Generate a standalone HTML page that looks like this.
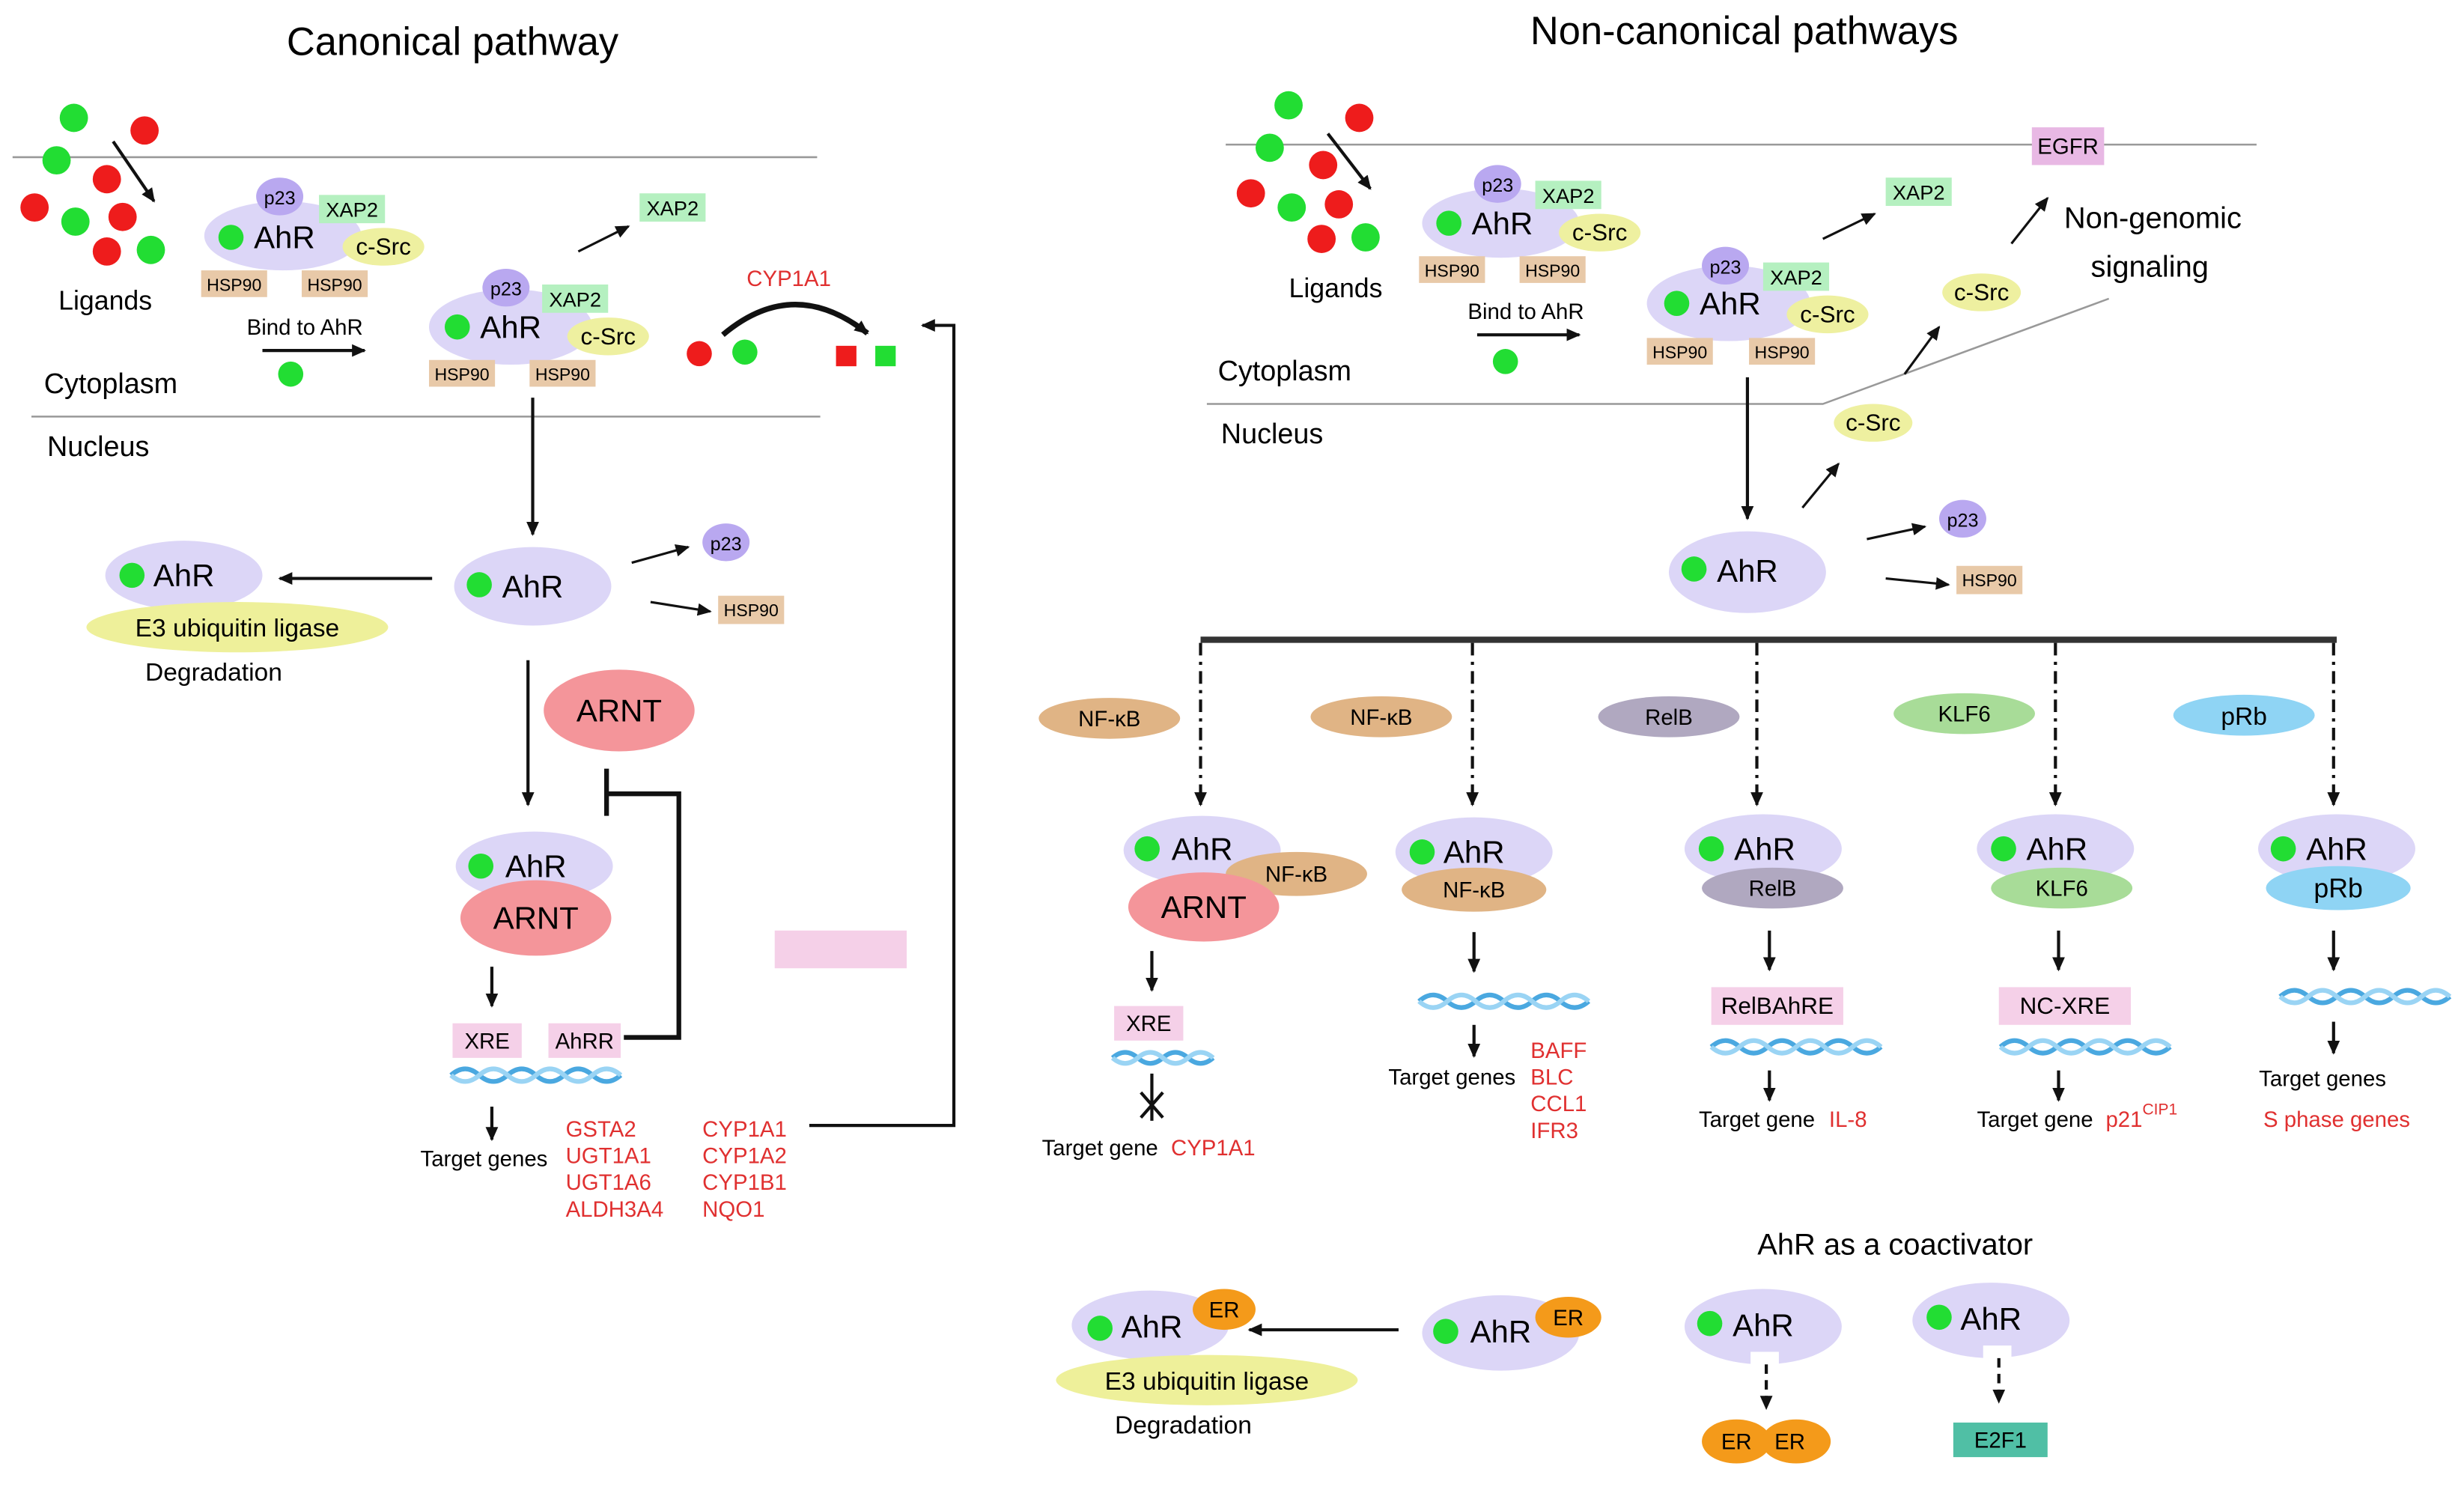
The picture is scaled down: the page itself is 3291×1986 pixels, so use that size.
<!DOCTYPE html>
<html><head><meta charset="utf-8"><style>
html,body{margin:0;padding:0;background:#fff;}
svg{display:block;}
text{font-family:"Liberation Sans",Arial,sans-serif;}
</style></head><body>
<svg width="3291" height="1986" viewBox="0 0 1568 946" preserveAspectRatio="none" xmlns="http://www.w3.org/2000/svg">
<defs>
<marker id="a" markerWidth="10" markerHeight="10" refX="8" refY="5" orient="auto" markerUnits="userSpaceOnUse"><path d="M0,1 L9,5 L0,9 z" fill="#111"/></marker>
</defs>
<rect width="1568" height="946" fill="#fff"/>

<!-- ============ LEFT ============ -->
<text x="288" y="35" font-size="25" text-anchor="middle">Canonical pathway</text>
<line x1="8" y1="100" x2="520" y2="100" stroke="#999" stroke-width="1.2"/>
<line x1="20" y1="265" x2="522" y2="265" stroke="#999" stroke-width="1.2"/>
<g fill="#22dd33"><circle cx="47" cy="75" r="9"/><circle cx="36" cy="102" r="9"/><circle cx="48" cy="141" r="9"/><circle cx="96" cy="159" r="9"/></g>
<g fill="#ee1c1c"><circle cx="92" cy="83" r="9"/><circle cx="68" cy="114" r="9"/><circle cx="22" cy="132" r="9"/><circle cx="78" cy="138" r="9"/><circle cx="68" cy="160" r="9"/></g>
<line x1="72" y1="90" x2="98" y2="128" stroke="#111" stroke-width="2" marker-end="url(#a)"/>
<text x="67" y="197" font-size="17" text-anchor="middle">Ligands</text>

<!-- complex 1 -->
<ellipse cx="180" cy="150" rx="50" ry="22" fill="#dcd6f7"/>
<ellipse cx="178" cy="125" rx="15" ry="12" fill="#b9a8f0"/><text x="178" y="130" font-size="12" text-anchor="middle">p23</text>
<rect x="203" y="124" width="42" height="18" fill="#b5f0c0"/><text x="224" y="138" font-size="13" text-anchor="middle">XAP2</text>
<ellipse cx="244" cy="157" rx="26" ry="12" fill="#eef0a0"/><text x="244" y="162" font-size="15" text-anchor="middle">c-Src</text>
<circle cx="147" cy="151" r="8" fill="#22dd33"/><text x="181" y="158" font-size="20" text-anchor="middle">AhR</text>
<rect x="128" y="172" width="42" height="17" fill="#e8c9a8"/><text x="149" y="185" font-size="11" text-anchor="middle">HSP90</text>
<rect x="192" y="172" width="42" height="17" fill="#e8c9a8"/><text x="213" y="185" font-size="11" text-anchor="middle">HSP90</text>
<text x="194" y="213" font-size="14" text-anchor="middle">Bind to AhR</text>
<line x1="167" y1="223" x2="232" y2="223" stroke="#111" stroke-width="2" marker-end="url(#a)"/>
<circle cx="185" cy="238" r="8" fill="#22dd33"/>

<!-- complex 2 -->
<ellipse cx="325" cy="208" rx="52" ry="24" fill="#dcd6f7"/>
<ellipse cx="322" cy="183" rx="15" ry="12" fill="#b9a8f0"/><text x="322" y="188" font-size="12" text-anchor="middle">p23</text>
<rect x="345" y="181" width="42" height="18" fill="#b5f0c0"/><text x="366" y="195" font-size="13" text-anchor="middle">XAP2</text>
<ellipse cx="387" cy="214" rx="26" ry="12" fill="#eef0a0"/><text x="387" y="219" font-size="15" text-anchor="middle">c-Src</text>
<circle cx="291" cy="208" r="8" fill="#22dd33"/><text x="325" y="215" font-size="20" text-anchor="middle">AhR</text>
<rect x="273" y="229" width="42" height="17" fill="#e8c9a8"/><text x="294" y="242" font-size="11" text-anchor="middle">HSP90</text>
<rect x="337" y="229" width="42" height="17" fill="#e8c9a8"/><text x="358" y="242" font-size="11" text-anchor="middle">HSP90</text>
<line x1="368" y1="160" x2="400" y2="144" stroke="#111" stroke-width="1.5" marker-end="url(#a)"/>
<rect x="407" y="123" width="42" height="18" fill="#b5f0c0"/><text x="428" y="137" font-size="13" text-anchor="middle">XAP2</text>

<text x="502" y="182" font-size="14" fill="#e03030" text-anchor="middle">CYP1A1</text>
<path d="M460 213 Q505 175 552 212" fill="none" stroke="#111" stroke-width="3.5" marker-end="url(#a)"/>
<circle cx="445" cy="225" r="8" fill="#ee1c1c"/><circle cx="474" cy="224" r="8" fill="#22dd33"/>
<rect x="532" y="220" width="13" height="13" fill="#ee1c1c"/><rect x="557" y="220" width="13" height="13" fill="#22dd33"/>
<polyline points="515,716 607,716 607,207 587,207" fill="none" stroke="#111" stroke-width="2" marker-end="url(#a)"/>

<text x="28" y="250" font-size="18">Cytoplasm</text>
<text x="30" y="290" font-size="18">Nucleus</text>
<line x1="339" y1="253" x2="339" y2="340" stroke="#111" stroke-width="2" marker-end="url(#a)"/>

<ellipse cx="339" cy="373" rx="50" ry="25" fill="#dcd6f7"/><circle cx="305" cy="372" r="8" fill="#22dd33"/><text x="339" y="380" font-size="20" text-anchor="middle">AhR</text>
<line x1="402" y1="358" x2="438" y2="348" stroke="#111" stroke-width="1.5" marker-end="url(#a)"/>
<ellipse cx="462" cy="345" rx="15" ry="12" fill="#b9a8f0"/><text x="462" y="350" font-size="12" text-anchor="middle">p23</text>
<line x1="414" y1="383" x2="452" y2="389" stroke="#111" stroke-width="1.5" marker-end="url(#a)"/>
<rect x="457" y="379" width="42" height="18" fill="#e8c9a8"/><text x="478" y="392" font-size="11" text-anchor="middle">HSP90</text>
<line x1="275" y1="368" x2="178" y2="368" stroke="#111" stroke-width="2" marker-end="url(#a)"/>
<ellipse cx="117" cy="366" rx="50" ry="22" fill="#dcd6f7"/><circle cx="84" cy="366" r="8" fill="#22dd33"/><text x="117" y="373" font-size="20" text-anchor="middle">AhR</text>
<ellipse cx="151" cy="399" rx="96" ry="16" fill="#eef09a"/><text x="151" y="405" font-size="16" text-anchor="middle">E3 ubiquitin ligase</text>
<text x="136" y="433" font-size="16" text-anchor="middle">Degradation</text>

<line x1="336" y1="420" x2="336" y2="512" stroke="#111" stroke-width="2" marker-end="url(#a)"/>
<ellipse cx="394" cy="452" rx="48" ry="26" fill="#f4959a"/><text x="394" y="459" font-size="20" text-anchor="middle">ARNT</text>
<polyline points="397,660 432,660 432,505 386,505" fill="none" stroke="#111" stroke-width="3"/>
<line x1="386" y1="489" x2="386" y2="519" stroke="#111" stroke-width="3"/>
<ellipse cx="340" cy="551" rx="50" ry="22" fill="#dcd6f7"/><circle cx="306" cy="551" r="8" fill="#22dd33"/><text x="341" y="558" font-size="20" text-anchor="middle">AhR</text>
<ellipse cx="341" cy="584" rx="48" ry="24" fill="#f4959a"/><text x="341" y="591" font-size="20" text-anchor="middle">ARNT</text>
<rect x="493" y="592" width="84" height="24" fill="#f5d0e8"/>
<line x1="313" y1="615" x2="313" y2="640" stroke="#111" stroke-width="2" marker-end="url(#a)"/>
<rect x="288" y="651" width="44" height="22" fill="#f5d0e8"/><text x="310" y="667" font-size="14" text-anchor="middle">XRE</text>
<rect x="349" y="651" width="46" height="22" fill="#f5d0e8"/><text x="372" y="667" font-size="14" text-anchor="middle">AhRR</text>
<g fill="none" stroke-width="3"><path d="M287 684 q9 -8 18 0 t18 0 t18 0 t18 0 t18 0 t18 0" stroke="#4aa8e0"/><path d="M287 684 q9 8 18 0 t18 0 t18 0 t18 0 t18 0 t18 0" stroke="#9ad4f4"/></g>
<line x1="313" y1="704" x2="313" y2="725" stroke="#111" stroke-width="2" marker-end="url(#a)"/>
<text x="308" y="742" font-size="14" text-anchor="middle">Target genes</text>
<g font-size="14" fill="#e03030"><text x="360" y="723">GSTA2</text><text x="360" y="740">UGT1A1</text><text x="360" y="757">UGT1A6</text><text x="360" y="774">ALDH3A4</text>
<text x="447" y="723">CYP1A1</text><text x="447" y="740">CYP1A2</text><text x="447" y="757">CYP1B1</text><text x="447" y="774">NQO1</text></g>

<!-- ============ RIGHT ============ -->
<text x="1110" y="28" font-size="25" text-anchor="middle">Non-canonical pathways</text>
<line x1="780" y1="92" x2="1436" y2="92" stroke="#999" stroke-width="1.2"/>
<polyline points="768,257 1160,257 1342,190" fill="none" stroke="#999" stroke-width="1.2"/>
<g fill="#22dd33"><circle cx="820" cy="67" r="9"/><circle cx="808" cy="94" r="9"/><circle cx="822" cy="132" r="9"/><circle cx="869" cy="151" r="9"/></g>
<g fill="#ee1c1c"><circle cx="865" cy="75" r="9"/><circle cx="842" cy="105" r="9"/><circle cx="796" cy="123" r="9"/><circle cx="852" cy="130" r="9"/><circle cx="841" cy="152" r="9"/></g>
<line x1="845" y1="85" x2="872" y2="120" stroke="#111" stroke-width="2" marker-end="url(#a)"/>
<text x="850" y="189" font-size="17" text-anchor="middle">Ligands</text>
<rect x="1293" y="81" width="46" height="24" fill="#e8b8e4"/><text x="1316" y="98" font-size="14" text-anchor="middle">EGFR</text>

<ellipse cx="955" cy="142" rx="50" ry="22" fill="#dcd6f7"/>
<ellipse cx="953" cy="117" rx="15" ry="12" fill="#b9a8f0"/><text x="953" y="122" font-size="12" text-anchor="middle">p23</text>
<rect x="977" y="115" width="42" height="18" fill="#b5f0c0"/><text x="998" y="129" font-size="13" text-anchor="middle">XAP2</text>
<ellipse cx="1018" cy="148" rx="26" ry="12" fill="#eef0a0"/><text x="1018" y="153" font-size="15" text-anchor="middle">c-Src</text>
<circle cx="922" cy="142" r="8" fill="#22dd33"/><text x="956" y="149" font-size="20" text-anchor="middle">AhR</text>
<rect x="903" y="163" width="42" height="17" fill="#e8c9a8"/><text x="924" y="176" font-size="11" text-anchor="middle">HSP90</text>
<rect x="967" y="163" width="42" height="17" fill="#e8c9a8"/><text x="988" y="176" font-size="11" text-anchor="middle">HSP90</text>
<text x="971" y="203" font-size="14" text-anchor="middle">Bind to AhR</text>
<line x1="940" y1="213" x2="1005" y2="213" stroke="#111" stroke-width="2" marker-end="url(#a)"/>
<circle cx="958" cy="230" r="8" fill="#22dd33"/>
<line x1="1160" y1="152" x2="1193" y2="136" stroke="#111" stroke-width="1.5" marker-end="url(#a)"/>
<rect x="1200" y="113" width="42" height="18" fill="#b5f0c0"/><text x="1221" y="127" font-size="13" text-anchor="middle">XAP2</text>

<ellipse cx="1100" cy="193" rx="52" ry="24" fill="#dcd6f7"/>
<ellipse cx="1098" cy="169" rx="15" ry="12" fill="#b9a8f0"/><text x="1098" y="174" font-size="12" text-anchor="middle">p23</text>
<rect x="1122" y="167" width="42" height="18" fill="#b5f0c0"/><text x="1143" y="181" font-size="13" text-anchor="middle">XAP2</text>
<ellipse cx="1163" cy="200" rx="26" ry="12" fill="#eef0a0"/><text x="1163" y="205" font-size="15" text-anchor="middle">c-Src</text>
<circle cx="1067" cy="193" r="8" fill="#22dd33"/><text x="1101" y="200" font-size="20" text-anchor="middle">AhR</text>
<rect x="1048" y="215" width="42" height="17" fill="#e8c9a8"/><text x="1069" y="228" font-size="11" text-anchor="middle">HSP90</text>
<rect x="1113" y="215" width="42" height="17" fill="#e8c9a8"/><text x="1134" y="228" font-size="11" text-anchor="middle">HSP90</text>

<text x="1370" y="145" font-size="19" text-anchor="middle">Non-genomic</text>
<text x="1368" y="176" font-size="19" text-anchor="middle">signaling</text>
<line x1="1280" y1="155" x2="1303" y2="126" stroke="#111" stroke-width="1.5" marker-end="url(#a)"/>
<ellipse cx="1261" cy="186" rx="25" ry="12" fill="#eef0a0"/><text x="1261" y="191" font-size="15" text-anchor="middle">c-Src</text>
<line x1="1212" y1="238" x2="1234" y2="208" stroke="#111" stroke-width="1.5" marker-end="url(#a)"/>
<ellipse cx="1192" cy="269" rx="25" ry="12" fill="#eef0a0"/><text x="1192" y="274" font-size="15" text-anchor="middle">c-Src</text>
<line x1="1147" y1="323" x2="1170" y2="295" stroke="#111" stroke-width="1.5" marker-end="url(#a)"/>
<text x="775" y="242" font-size="18">Cytoplasm</text>
<text x="777" y="282" font-size="18">Nucleus</text>
<line x1="1112" y1="240" x2="1112" y2="330" stroke="#111" stroke-width="2" marker-end="url(#a)"/>

<ellipse cx="1112" cy="364" rx="50" ry="26" fill="#dcd6f7"/><circle cx="1078" cy="362" r="8" fill="#22dd33"/><text x="1112" y="370" font-size="20" text-anchor="middle">AhR</text>
<line x1="1188" y1="343" x2="1225" y2="335" stroke="#111" stroke-width="1.5" marker-end="url(#a)"/>
<ellipse cx="1249" cy="330" rx="15" ry="12" fill="#b9a8f0"/><text x="1249" y="335" font-size="12" text-anchor="middle">p23</text>
<line x1="1200" y1="368" x2="1240" y2="372" stroke="#111" stroke-width="1.5" marker-end="url(#a)"/>
<rect x="1245" y="360" width="42" height="18" fill="#e8c9a8"/><text x="1266" y="373" font-size="11" text-anchor="middle">HSP90</text>

<line x1="764" y1="407" x2="1487" y2="407" stroke="#333" stroke-width="4"/>
<g stroke="#111" stroke-width="2" stroke-dasharray="8,4,2,4" marker-end="url(#a)">
<line x1="764" y1="409" x2="764" y2="512"/><line x1="937" y1="409" x2="937" y2="512"/><line x1="1118" y1="409" x2="1118" y2="512"/><line x1="1308" y1="409" x2="1308" y2="512"/><line x1="1485" y1="409" x2="1485" y2="512"/></g>

<ellipse cx="706" cy="457" rx="45" ry="13" fill="#e0b485"/><text x="706" y="462" font-size="14" text-anchor="middle">NF-κB</text>
<ellipse cx="879" cy="456" rx="45" ry="13" fill="#e0b485"/><text x="879" y="461" font-size="14" text-anchor="middle">NF-κB</text>
<ellipse cx="1062" cy="456" rx="45" ry="13" fill="#b0a8c0"/><text x="1062" y="461" font-size="14" text-anchor="middle">RelB</text>
<ellipse cx="1250" cy="454" rx="45" ry="13" fill="#a8dc98"/><text x="1250" y="459" font-size="14" text-anchor="middle">KLF6</text>
<ellipse cx="1428" cy="455" rx="45" ry="13" fill="#8fd4f4"/><text x="1428" y="461" font-size="16" text-anchor="middle">pRb</text>

<!-- col1 -->
<ellipse cx="765" cy="541" rx="50" ry="22" fill="#dcd6f7"/><circle cx="730" cy="540" r="8" fill="#22dd33"/><text x="765" y="547" font-size="20" text-anchor="middle">AhR</text>
<ellipse cx="825" cy="556" rx="45" ry="14" fill="#e0b485"/><text x="825" y="561" font-size="14" text-anchor="middle">NF-κB</text>
<ellipse cx="766" cy="577" rx="48" ry="22" fill="#f4959a"/><text x="766" y="584" font-size="20" text-anchor="middle">ARNT</text>
<line x1="733" y1="605" x2="733" y2="630" stroke="#111" stroke-width="2" marker-end="url(#a)"/>
<rect x="709" y="640" width="44" height="22" fill="#f5d0e8"/><text x="731" y="656" font-size="14" text-anchor="middle">XRE</text>
<g fill="none" stroke-width="3"><path d="M708 673 q8 -7 16 0 t16 0 t16 0 t16 0" stroke="#4aa8e0"/><path d="M708 673 q8 7 16 0 t16 0 t16 0 t16 0" stroke="#9ad4f4"/></g>
<line x1="733" y1="683" x2="733" y2="713" stroke="#111" stroke-width="2"/>
<path d="M726 695 L740 711 M740 695 L726 711" stroke="#111" stroke-width="2"/>
<text x="700" y="735" font-size="14" text-anchor="middle">Target gene</text>
<text x="772" y="735" font-size="14" fill="#e03030" text-anchor="middle">CYP1A1</text>

<!-- col2 -->
<ellipse cx="938" cy="542" rx="50" ry="22" fill="#dcd6f7"/><circle cx="905" cy="542" r="8" fill="#22dd33"/><text x="938" y="549" font-size="20" text-anchor="middle">AhR</text>
<ellipse cx="938" cy="566" rx="46" ry="14" fill="#e0b485"/><text x="938" y="571" font-size="14" text-anchor="middle">NF-κB</text>
<line x1="938" y1="593" x2="938" y2="618" stroke="#111" stroke-width="2" marker-end="url(#a)"/>
<g fill="none" stroke-width="3"><path d="M903 637 q9 -8 18 0 t18 0 t18 0 t18 0 t18 0 t18 0" stroke="#4aa8e0"/><path d="M903 637 q9 8 18 0 t18 0 t18 0 t18 0 t18 0 t18 0" stroke="#9ad4f4"/></g>
<line x1="938" y1="652" x2="938" y2="672" stroke="#111" stroke-width="2" marker-end="url(#a)"/>
<text x="924" y="690" font-size="14" text-anchor="middle">Target genes</text>
<g font-size="14" fill="#e03030"><text x="974" y="673">BAFF</text><text x="974" y="690">BLC</text><text x="974" y="707">CCL1</text><text x="974" y="724">IFR3</text></g>

<!-- col3 -->
<ellipse cx="1122" cy="540" rx="50" ry="22" fill="#dcd6f7"/><circle cx="1089" cy="540" r="8" fill="#22dd33"/><text x="1123" y="547" font-size="20" text-anchor="middle">AhR</text>
<ellipse cx="1128" cy="565" rx="45" ry="13" fill="#b0a8c0"/><text x="1128" y="570" font-size="14" text-anchor="middle">RelB</text>
<line x1="1126" y1="592" x2="1126" y2="617" stroke="#111" stroke-width="2" marker-end="url(#a)"/>
<rect x="1089" y="628" width="84" height="24" fill="#f5d0e8"/><text x="1131" y="645" font-size="15" text-anchor="middle">RelBAhRE</text>
<g fill="none" stroke-width="3"><path d="M1089 666 q9 -8 18 0 t18 0 t18 0 t18 0 t18 0 t18 0" stroke="#4aa8e0"/><path d="M1089 666 q9 8 18 0 t18 0 t18 0 t18 0 t18 0 t18 0" stroke="#9ad4f4"/></g>
<line x1="1126" y1="681" x2="1126" y2="700" stroke="#111" stroke-width="2" marker-end="url(#a)"/>
<text x="1118" y="717" font-size="14" text-anchor="middle">Target gene</text>
<text x="1176" y="717" font-size="14" fill="#e03030" text-anchor="middle">IL-8</text>

<!-- col4 -->
<ellipse cx="1308" cy="540" rx="50" ry="22" fill="#dcd6f7"/><circle cx="1275" cy="540" r="8" fill="#22dd33"/><text x="1309" y="547" font-size="20" text-anchor="middle">AhR</text>
<ellipse cx="1312" cy="565" rx="45" ry="13" fill="#a8dc98"/><text x="1312" y="570" font-size="14" text-anchor="middle">KLF6</text>
<line x1="1310" y1="592" x2="1310" y2="617" stroke="#111" stroke-width="2" marker-end="url(#a)"/>
<rect x="1272" y="628" width="84" height="24" fill="#f5d0e8"/><text x="1314" y="645" font-size="15" text-anchor="middle">NC-XRE</text>
<g fill="none" stroke-width="3"><path d="M1273 666 q9 -8 18 0 t18 0 t18 0 t18 0 t18 0 t18 0" stroke="#4aa8e0"/><path d="M1273 666 q9 8 18 0 t18 0 t18 0 t18 0 t18 0 t18 0" stroke="#9ad4f4"/></g>
<line x1="1310" y1="681" x2="1310" y2="700" stroke="#111" stroke-width="2" marker-end="url(#a)"/>
<text x="1295" y="717" font-size="14" text-anchor="middle">Target gene</text>
<text x="1340" y="717" font-size="14" fill="#e03030">p21<tspan font-size="10" dy="-8">CIP1</tspan></text>

<!-- col5 -->
<ellipse cx="1487" cy="540" rx="50" ry="22" fill="#dcd6f7"/><circle cx="1453" cy="540" r="8" fill="#22dd33"/><text x="1487" y="547" font-size="20" text-anchor="middle">AhR</text>
<ellipse cx="1488" cy="565" rx="46" ry="14" fill="#8fd4f4"/><text x="1488" y="571" font-size="17" text-anchor="middle">pRb</text>
<line x1="1485" y1="592" x2="1485" y2="617" stroke="#111" stroke-width="2" marker-end="url(#a)"/>
<g fill="none" stroke-width="3"><path d="M1451 634 q9 -8 18 0 t18 0 t18 0 t18 0 t18 0 t18 0" stroke="#4aa8e0"/><path d="M1451 634 q9 8 18 0 t18 0 t18 0 t18 0 t18 0 t18 0" stroke="#9ad4f4"/></g>
<line x1="1485" y1="650" x2="1485" y2="670" stroke="#111" stroke-width="2" marker-end="url(#a)"/>
<text x="1478" y="691" font-size="14" text-anchor="middle">Target genes</text>
<text x="1487" y="717" font-size="14" fill="#e03030" text-anchor="middle">S phase genes</text>

<!-- coactivator -->
<text x="1206" y="798" font-size="19" text-anchor="middle">AhR as a coactivator</text>
<ellipse cx="732" cy="843" rx="50" ry="22" fill="#dcd6f7"/><circle cx="700" cy="845" r="8" fill="#22dd33"/><text x="733" y="851" font-size="20" text-anchor="middle">AhR</text>
<ellipse cx="779" cy="833" rx="20" ry="13" fill="#f49a1a"/><text x="779" y="838" font-size="14" text-anchor="middle">ER</text>
<ellipse cx="768" cy="878" rx="96" ry="16" fill="#eef09a"/><text x="768" y="884" font-size="16" text-anchor="middle">E3 ubiquitin ligase</text>
<text x="753" y="912" font-size="16" text-anchor="middle">Degradation</text>
<line x1="890" y1="846" x2="795" y2="846" stroke="#111" stroke-width="2" marker-end="url(#a)"/>
<ellipse cx="955" cy="848" rx="50" ry="24" fill="#dcd6f7"/><circle cx="920" cy="847" r="8" fill="#22dd33"/><text x="955" y="854" font-size="20" text-anchor="middle">AhR</text>
<ellipse cx="998" cy="838" rx="21" ry="13" fill="#f49a1a"/><text x="998" y="843" font-size="14" text-anchor="middle">ER</text>

<ellipse cx="1122" cy="844" rx="50" ry="24" fill="#dcd6f7"/><circle cx="1088" cy="842" r="8" fill="#22dd33"/><text x="1122" y="850" font-size="20" text-anchor="middle">AhR</text>
<rect x="1114" y="860" width="18" height="10" fill="#fff"/>
<line x1="1124" y1="868" x2="1124" y2="896" stroke="#111" stroke-width="2" stroke-dasharray="6,4" marker-end="url(#a)"/>
<ellipse cx="1105" cy="917" rx="22" ry="14" fill="#f49a1a"/><ellipse cx="1143" cy="917" rx="22" ry="14" fill="#f49a1a"/>
<text x="1105" y="922" font-size="14" text-anchor="middle">ER</text><text x="1139" y="922" font-size="14" text-anchor="middle">ER</text>

<ellipse cx="1267" cy="840" rx="50" ry="24" fill="#dcd6f7"/><circle cx="1234" cy="838" r="8" fill="#22dd33"/><text x="1267" y="846" font-size="20" text-anchor="middle">AhR</text>
<rect x="1262" y="856" width="18" height="10" fill="#fff"/>
<line x1="1272" y1="864" x2="1272" y2="892" stroke="#111" stroke-width="2" stroke-dasharray="6,4" marker-end="url(#a)"/>
<rect x="1243" y="905" width="60" height="22" fill="#50bfa5"/><text x="1273" y="921" font-size="14" text-anchor="middle">E2F1</text>
</svg>
</body></html>
